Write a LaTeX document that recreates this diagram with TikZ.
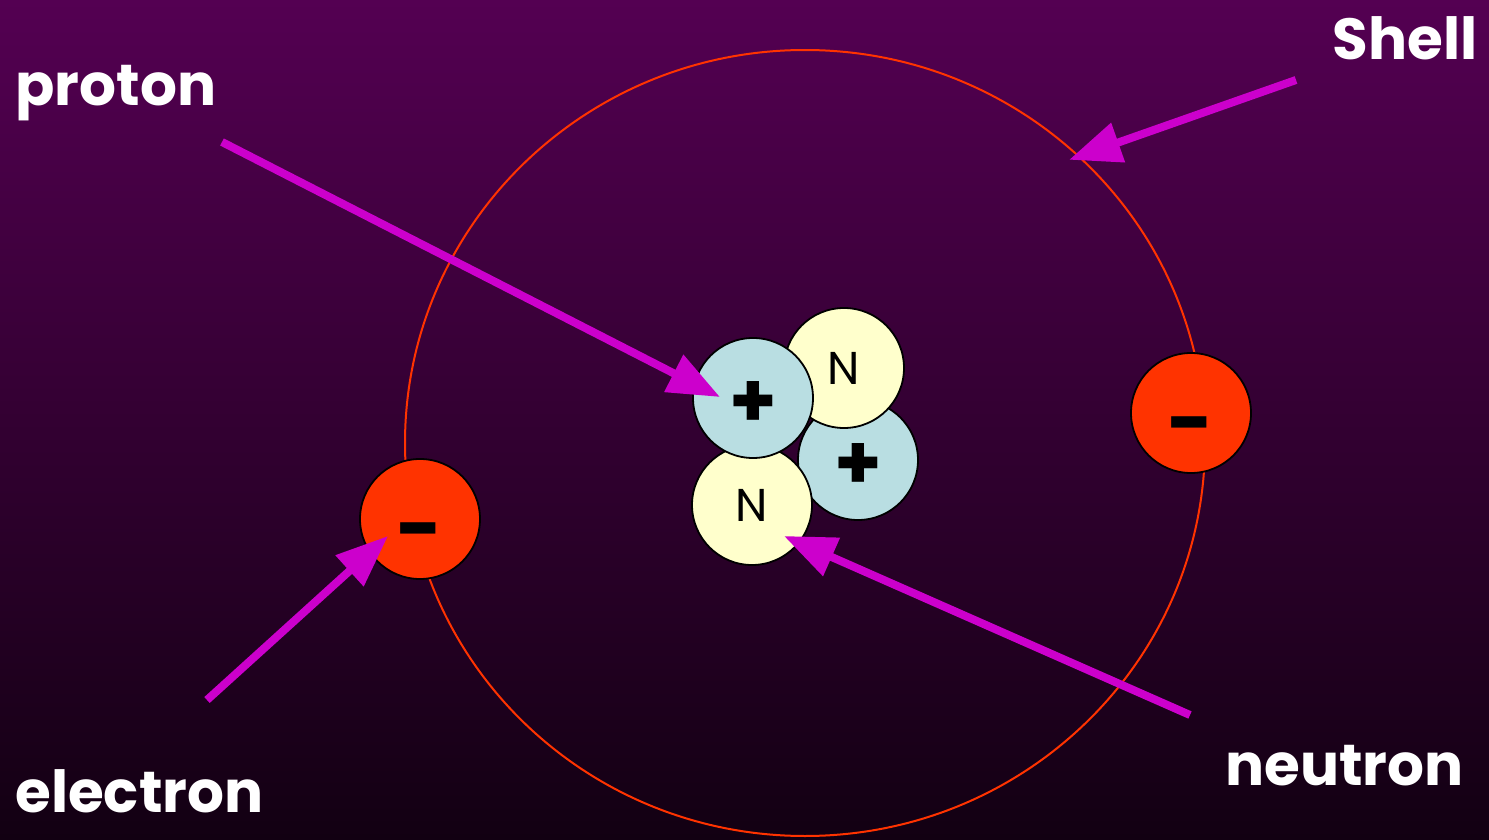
\documentclass[tikz,border=0pt]{standalone}
\usepackage{fontspec}
\setmainfont{Poppins}
\usepackage{xcolor}
\usetikzlibrary{arrows.meta, calc, shapes.geometric}

\definecolor{bgtop}{RGB}{84,0,82}
\definecolor{bgbottom}{RGB}{18,0,18}
\definecolor{shellred}{RGB}{255,51,0}
\definecolor{protonblue}{RGB}{185,222,226}
\definecolor{neutronyellow}{RGB}{255,255,204}
\definecolor{arrowpink}{RGB}{204,0,204}

\begin{document}
\begin{tikzpicture}[x=0.5pt, y=-0.5pt,
  particle/.style={circle, draw=black, line width=0.9pt, minimum size=60pt,
    inner sep=0pt},
  electron/.style={particle, fill=shellred, font=\bfseries\fontsize{40}{40}\selectfont,
    text height=37pt, text depth=0pt},
  proton/.style={particle, fill=protonblue, font=\bfseries\fontsize{38}{38}\selectfont,
    text height=29pt, text depth=0pt},
  neutron/.style={particle, fill=neutronyellow, font=\fontsize{23}{23}\selectfont},
  partname/.style={text=white, font=\bfseries\fontsize{29}{29}\selectfont,
    inner sep=0pt},
  pointer/.style={-{Triangle[length=26pt, width=20pt]}, line width=4pt, draw=arrowpink}
]

% Background
\fill[top color=bgtop, bottom color=bgbottom] (0,0) rectangle (1489,840);
\useasboundingbox (0,0) rectangle (1489,840);

% Shell
\node[ellipse, draw=shellred, line width=1pt, minimum width=400pt,
  minimum height=393pt, inner sep=0pt] (shell) at (805,443) {};

% Nucleus
\node[proton] (p2) at (858,460) {+};
\node[neutron] (n1) at (844,368) {N};
\node[neutron] (n2) at (752,505) {N};
\node[proton] (p1) at (753,398) {+};

% Electrons
\node[electron] (e1) at (420,519) {-};
\node[electron] (e2) at (1191,413) {-};

% Labels
\node[partname, anchor=base west] (protonlabel) at (15,105) {proton};
\node[partname, anchor=base east] (shelllabel) at (1478,60) {Shell};
\node[partname, anchor=base west] (electronlabel) at (15,812) {electron};
\node[partname, anchor=base west] (neutronlabel) at (1225,785) {neutron};

% Arrows
\coordinate (protontail) at (222,142);
\coordinate (shelltail) at (1296,80);
\coordinate (electrontail) at (207,700);
\coordinate (neutrontail) at (1190,715);

\draw[pointer] (protontail) -- ($(p1)+(-33,-1)$);
\draw[pointer] (shelltail) -- ($(shell.center)!0.975!(shell.47)$);
\draw[pointer] (electrontail) -- ($(e1)+(-32,17)$);
\draw[pointer] (neutrontail) -- ($(n2)+(32,31)$);

\end{tikzpicture}
\end{document}
